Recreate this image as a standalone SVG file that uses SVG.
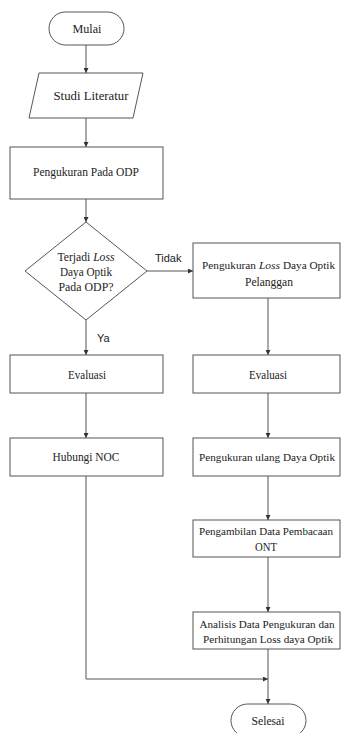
<svg xmlns="http://www.w3.org/2000/svg" width="341" height="733" viewBox="0 0 341 733">
<style>
.s{fill:#fff;stroke:#555;stroke-width:1}
.t{font-family:"Liberation Serif","Times New Roman",serif;font-size:12px;fill:#222;text-anchor:middle}
.t2{font-size:11px}
.st{font-family:"Liberation Serif","Times New Roman",serif;font-size:11px;fill:#222}
.l{font-family:"Liberation Sans",Arial,sans-serif;font-size:11px;fill:#222}
.c{fill:none;stroke:#555;stroke-width:1}
</style>
<defs>
<marker id="a" viewBox="0 0 8 8" refX="8" refY="4" markerWidth="5" markerHeight="5" orient="auto" markerUnits="userSpaceOnUse">
<path d="M0,0 L8,4 L0,8 z" fill="#333"/>
</marker>
</defs>
<rect width="341" height="733" fill="#fff"/>
<g id="connectors">
<path class="c" d="M86,45 V73" marker-end="url(#a)"/>
<path class="c" d="M86,118 V147" marker-end="url(#a)"/>
<path class="c" d="M86,199 V222" marker-end="url(#a)"/>
<path class="c" d="M147,271 H193" marker-end="url(#a)"/>
<path class="c" d="M86,320 V355" marker-end="url(#a)"/>
<path class="c" d="M268,298 V355" marker-end="url(#a)"/>
<path class="c" d="M86,393 V438" marker-end="url(#a)"/>
<path class="c" d="M268,393 V438" marker-end="url(#a)"/>
<path class="c" d="M268,476 V520" marker-end="url(#a)"/>
<path class="c" d="M268,557 V612" marker-end="url(#a)"/>
<path class="c" d="M86,476 V679 H268" marker-end="url(#a)"/>
<path class="c" d="M268,649 V704" marker-end="url(#a)"/>
<text class="l" x="155" y="262">Tidak</text>
<text class="l" x="97" y="342">Ya</text>
</g>
<g id="mulai">
<rect class="s" x="49" y="12" width="75" height="33" rx="16.5"/>
<text class="t" x="87" y="33" textLength="29" lengthAdjust="spacingAndGlyphs">Mulai</text>
</g>
<g id="studi">
<polygon class="s" points="39,73 143,73 133,118 29,118"/>
<text class="t" x="91" y="100" textLength="75" lengthAdjust="spacingAndGlyphs">Studi Literatur</text>
</g>
<g id="pengukuran-odp">
<rect class="s" x="10" y="147" width="153" height="52"/>
<text class="t" x="86" y="176" textLength="106" lengthAdjust="spacingAndGlyphs">Pengukuran Pada ODP</text>
</g>
<g id="decision">
<polygon class="s" points="86,222 147,271 86,320 25,271"/>
<text class="t" x="86" y="261" textLength="57" lengthAdjust="spacingAndGlyphs">Terjadi <tspan font-style="italic">Loss</tspan></text>
<text class="t" x="86" y="276" textLength="52" lengthAdjust="spacingAndGlyphs">Daya Optik</text>
<text class="t" x="86" y="291" textLength="55" lengthAdjust="spacingAndGlyphs">Pada ODP?</text>
</g>
<g id="pengukuran-pelanggan">
<rect class="s" x="193" y="243" width="147" height="55"/>
<text class="st" x="202" y="269" textLength="54" lengthAdjust="spacingAndGlyphs">Pengukuran</text>
<text class="st" x="259" y="269" textLength="21" lengthAdjust="spacingAndGlyphs" font-style="italic">Loss</text>
<text class="st" x="283" y="269" textLength="52" lengthAdjust="spacingAndGlyphs">Daya Optik</text>
<text class="t" x="269" y="286" textLength="48" lengthAdjust="spacingAndGlyphs">Pelanggan</text>
</g>
<g id="evaluasi-kiri">
<rect class="s" x="10" y="355" width="153" height="38"/>
<text class="t" x="87" y="379" textLength="38" lengthAdjust="spacingAndGlyphs">Evaluasi</text>
</g>
<g id="evaluasi-kanan">
<rect class="s" x="193" y="355" width="147" height="38"/>
<text class="t" x="268" y="379" textLength="38" lengthAdjust="spacingAndGlyphs">Evaluasi</text>
</g>
<g id="hubungi-noc">
<rect class="s" x="10" y="438" width="153" height="38"/>
<text class="t" x="86" y="461" textLength="67" lengthAdjust="spacingAndGlyphs">Hubungi NOC</text>
</g>
<g id="pengukuran-ulang">
<rect class="s" x="193" y="438" width="147" height="38"/>
<text class="t t2" x="267" y="461" textLength="136" lengthAdjust="spacingAndGlyphs">Pengukuran ulang Daya Optik</text>
</g>
<g id="pengambilan">
<rect class="s" x="193" y="520" width="147" height="37"/>
<text class="t t2" x="266" y="535" textLength="134" lengthAdjust="spacingAndGlyphs">Pengambilan Data Pembacaan</text>
<text class="t" x="266" y="551" textLength="22" lengthAdjust="spacingAndGlyphs">ONT</text>
</g>
<g id="analisis">
<rect class="s" x="193" y="612" width="147" height="37"/>
<text class="t t2" x="267" y="628" textLength="135" lengthAdjust="spacingAndGlyphs">Analisis Data Pengukuran dan</text>
<text class="t t2" x="268" y="643" textLength="130" lengthAdjust="spacingAndGlyphs">Perhitungan Loss daya Optik</text>
</g>
<g id="selesai">
<rect class="s" x="231" y="704" width="75" height="33" rx="16.5"/>
<text class="t" x="268" y="725" textLength="33" lengthAdjust="spacingAndGlyphs">Selesai</text>
</g>
</svg>
